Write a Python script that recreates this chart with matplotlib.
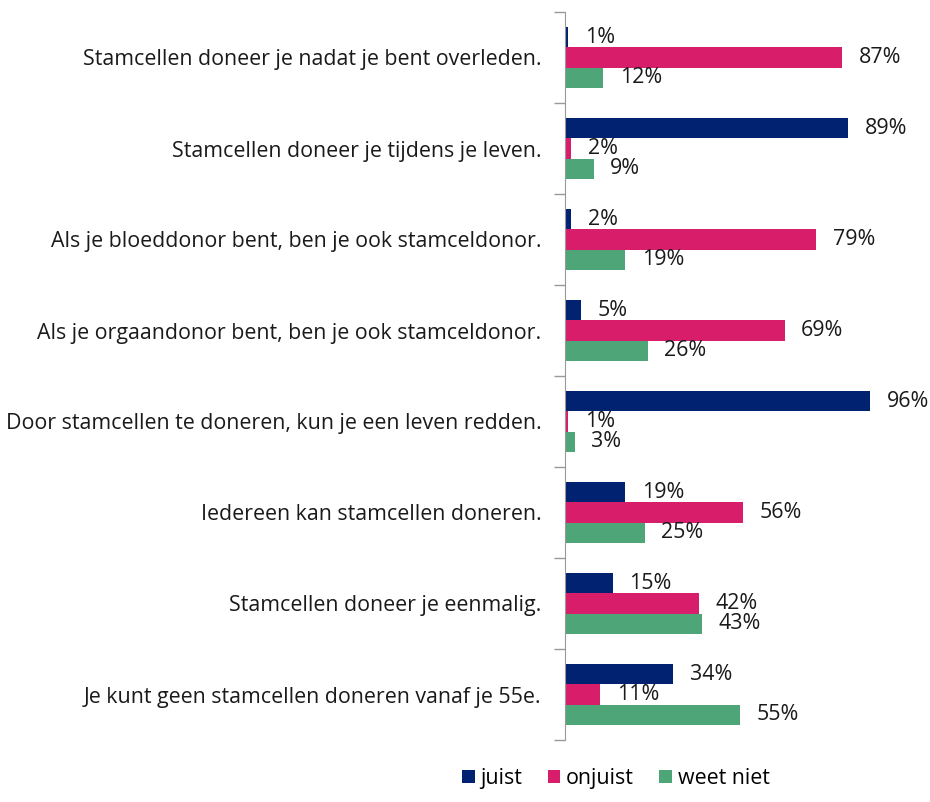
import numpy as np
import matplotlib.pyplot as plt
from matplotlib.ticker import FixedLocator

plt.rcParams['font.family'] = ['Open Sans', 'DejaVu Sans']

statements = [
    "Stamcellen doneer je nadat je bent overleden.",
    "Stamcellen doneer je tijdens je leven.",
    "Als je bloeddonor bent, ben je ook stamceldonor.",
    "Als je orgaandonor bent, ben je ook stamceldonor.",
    "Door stamcellen te doneren, kun je een leven redden.",
    "Iedereen kan stamcellen doneren.",
    "Stamcellen doneer je eenmalig.",
    "Je kunt geen stamcellen doneren vanaf je 55e.",
]
juist = [1, 89, 2, 5, 96, 19, 15, 34]
onjuist = [87, 2, 79, 69, 1, 56, 42, 11]
weet_niet = [12, 9, 19, 26, 3, 25, 43, 55]

series = [("juist", juist, "#002270"),
          ("onjuist", onjuist, "#D81E6B"),
          ("weet niet", weet_niet, "#4EA577")]

fs = 15.4

fig = plt.figure(figsize=(9.3, 8.02), dpi=100)
ax = fig.add_axes([565 / 930, 1 - 740 / 802, 0.39, (740 - 12) / 802])

y = np.arange(len(statements))
h = 0.22
for i, (name, vals, col) in enumerate(series):
    pos = y + (i - 1) * h
    ax.barh(pos, vals, height=h, color=col, label=name)
    for p, v in zip(pos, vals):
        ax.annotate(f"{v}%", (v, p), xytext=(12, 0), textcoords="offset points",
                    va="center", ha="left", fontsize=fs, color="#1a1a1a")

ax.set_ylim(len(statements) - 0.5, -0.5)
ax.set_xlim(0, 114)
ax.set_yticks(y)
ax.set_yticklabels(statements, fontsize=fs, color="#1a1a1a")
ax.yaxis.set_minor_locator(FixedLocator(np.arange(-0.5, len(statements), 1)))
ax.tick_params(axis="y", which="major", length=0, pad=17)
ax.tick_params(axis="y", which="minor", length=8, color="#999999", width=1)
ax.set_xticks([])
for s in ["top", "right", "bottom"]:
    ax.spines[s].set_visible(False)
ax.spines["left"].set_color("#999999")

fig.legend(loc="lower center", bbox_to_anchor=(0.662, -0.008), ncol=3,
           frameon=False, fontsize=fs, handlelength=0.6, handleheight=0.6,
           handletextpad=0.25, columnspacing=1.2)

fig.savefig("out.png", dpi=100)
